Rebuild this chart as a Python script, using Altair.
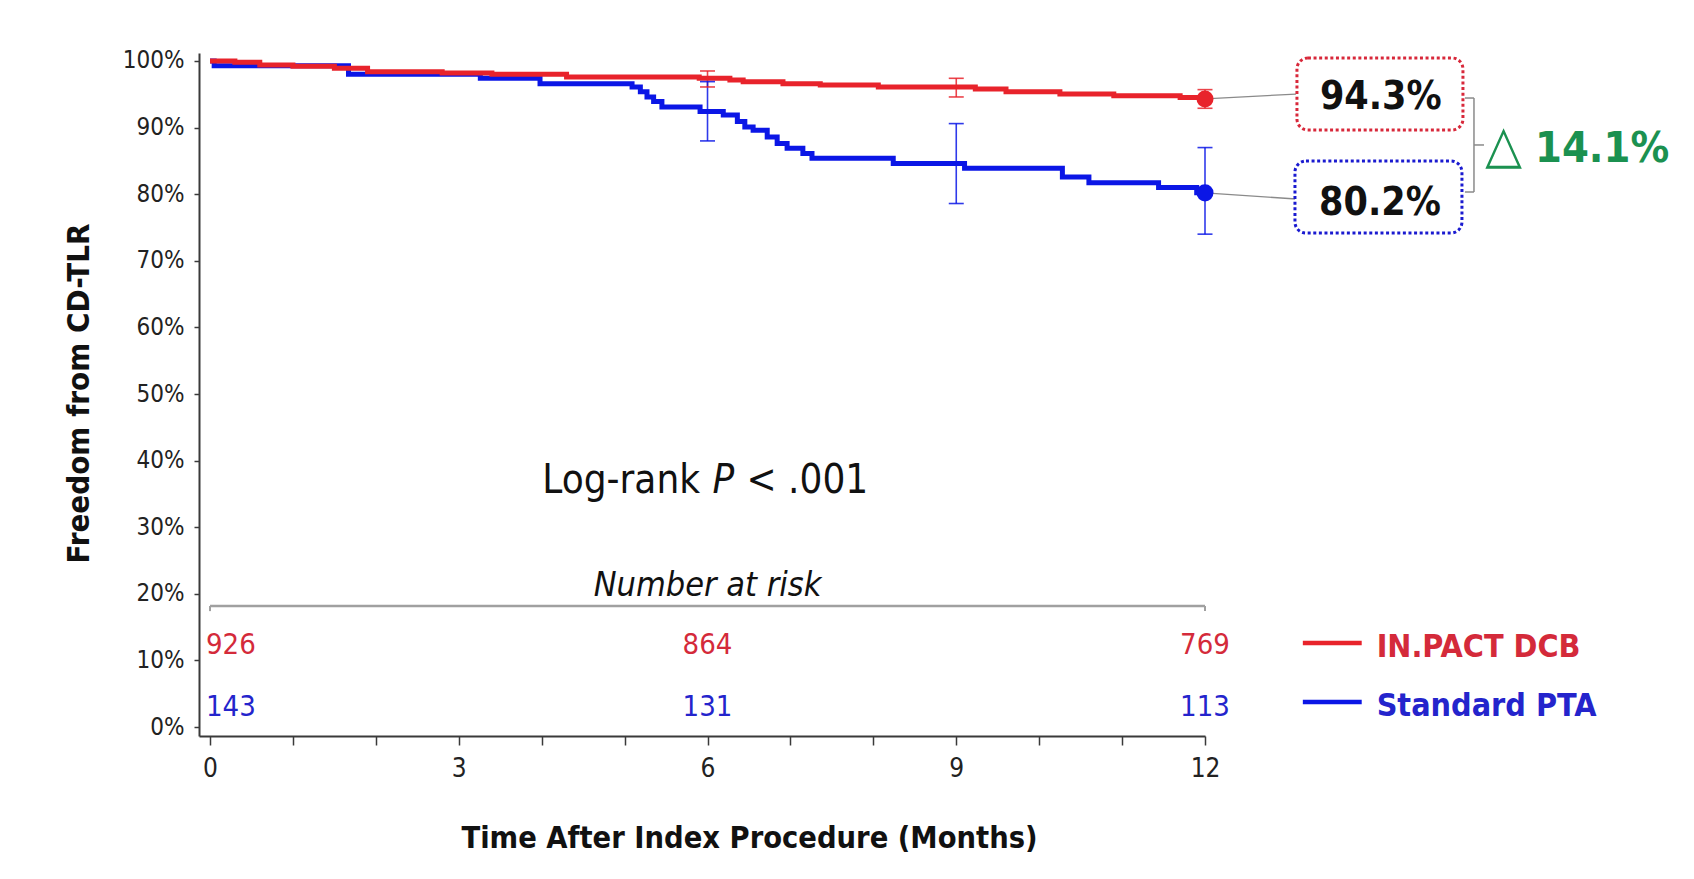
import altair as alt
import pandas as pd

# ---------------- data ----------------
groups = ["IN.PACT DCB", "Standard PTA"]

# Kaplan-Meier step estimates (months, % freedom from CD-TLR)
dcb_time = [0, 0.3, 0.6, 1.0, 1.5, 1.9, 2.8, 3.4, 4.3, 5.9, 6.27, 6.43, 6.91, 7.36,
            8.06, 9.23, 9.6, 10.25, 10.9, 11.7, 12.0]
dcb_surv = [100, 99.8, 99.4, 99.2, 98.9, 98.4, 98.2, 98.0, 97.6, 97.4, 97.15, 96.9, 96.6, 96.4,
            96.1, 95.8, 95.4, 95.05, 94.8, 94.5, 94.3]
pta_time = [0, 0.05, 1.67, 3.26, 3.98, 5.09, 5.19, 5.27, 5.35, 5.45, 5.91, 6.19, 6.36, 6.45,
            6.55, 6.72, 6.84, 6.96, 7.15, 7.26, 8.24, 9.1, 10.28, 10.6, 11.44, 11.9, 12.0]
pta_surv = [100, 99.3, 98.0, 97.4, 96.6, 96.1, 95.4, 94.6, 93.9, 93.1, 92.4, 91.9, 90.9, 90.1,
            89.6, 88.6, 87.6, 86.9, 86.1, 85.4, 84.6, 83.9, 82.6, 81.7, 81.0, 80.2, 80.2]

# confidence intervals shown as error bars
ci_time = [6, 9, 12]
dcb_ci_lo = [96.1, 94.6, 92.9]
dcb_ci_hi = [98.5, 97.4, 95.7]
pta_ci_lo = [88.0, 78.6, 74.0]
pta_ci_hi = [96.9, 90.6, 87.0]

# 12-month estimates
final_time = 12
dcb_final = 94.3
pta_final = 80.2
delta_symbol = "△"
delta_value = "14.1%"

# number at risk
risk_time = [0, 6, 12]
dcb_risk = [926, 864, 769]
pta_risk = [143, 131, 113]

x_ticks = list(range(13))
y_ticks = list(range(0, 101, 10))

# ---------------- styling ----------------
FONT = "'DejaVu Sans Condensed', 'Liberation Sans Narrow', sans-serif"
RED = "#e8232b"
BLUE = "#0b16e6"
RED_TXT = "#d42a3a"
BLUE_TXT = "#2424cc"
GREEN = "#1b9150"
AXIS_C = "#3a3a3a"

xs = alt.Scale(domain=[-0.133, 12.0], nice=False, zero=False)
ys = alt.Scale(domain=[-1.35, 101.2], nice=False, zero=False)
cs = alt.Scale(domain=groups, range=[RED, BLUE])

x_axis = alt.Axis(
    values=x_ticks,
    labelExpr="datum.value % 3 == 0 ? datum.label : ''",
    title="Time After Index Procedure (Months)",
    titleFont=FONT, titleFontSize=30.5, titleFontWeight="bold", titleColor="#111",
    titleX=550, titleY=111, titleBaseline="alphabetic", titleAlign="center",
    labelFont=FONT, labelFontSize=26, labelColor="#222", labelFlush=False, labelOverlap=False,
    labelPadding=10, tickSize=9, tickWidth=1.5, tickColor=AXIS_C,
    domainColor=AXIS_C, domainWidth=2, grid=False,
)
y_axis = alt.Axis(
    values=y_ticks,
    labelExpr="datum.value + '%'",
    title="Freedom from CD-TLR",
    titleFont=FONT, titleFontSize=31, titleFontWeight="bold", titleColor="#111",
    titleAngle=270, titleX=-120, titleY=340, titleBaseline="middle", titleAlign="center",
    labelFont=FONT, labelFontSize=24, labelColor="#222", labelFlush=False, labelOverlap=False,
    labelPadding=10, tickSize=5, tickWidth=1.5, tickColor=AXIS_C,
    domainColor=AXIS_C, domainWidth=2, grid=False,
)


def X(f):
    return alt.X(f, type="quantitative", scale=xs, axis=x_axis)


def Y(f):
    return alt.Y(f, type="quantitative", scale=ys, axis=y_axis)


def YD(v):
    return alt.Y(datum=v, type="quantitative", scale=ys, axis=y_axis)


COLOR = alt.Color("group:N", scale=cs, legend=None)

# ---------------- tables ----------------
km_dcb = pd.DataFrame({"time": dcb_time, "surv": dcb_surv, "group": groups[0]})
km_pta = pd.DataFrame({"time": pta_time, "surv": pta_surv, "group": groups[1]})
ci = pd.concat([
    pd.DataFrame({"time": ci_time, "lo": dcb_ci_lo, "hi": dcb_ci_hi, "group": groups[0]}),
    pd.DataFrame({"time": ci_time, "lo": pta_ci_lo, "hi": pta_ci_hi, "group": groups[1]}),
])
finals = pd.DataFrame({"time": [final_time, final_time], "surv": [dcb_final, pta_final],
                       "group": groups})
risk = pd.concat([
    pd.DataFrame({"time": risk_time, "n": dcb_risk, "group": groups[0]}),
    pd.DataFrame({"time": risk_time, "n": pta_risk, "group": groups[1]}),
])

# ---------------- main layers ----------------
pta_line = alt.Chart(km_pta).mark_line(interpolate="step-after", strokeWidth=5).encode(
    x=X("time"), y=Y("surv"), color=COLOR)
dcb_line = alt.Chart(km_dcb).mark_line(interpolate="step-after", strokeWidth=5).encode(
    x=X("time"), y=Y("surv"), color=COLOR)

err_rule = alt.Chart(ci).mark_rule(strokeWidth=1.6, opacity=0.85).encode(
    x=X("time"), y=Y("lo"), y2=alt.Y2("hi"), color=COLOR)
cap_lo = alt.Chart(ci).mark_tick(orient="horizontal", size=15, thickness=1.6, opacity=0.85).encode(
    x=X("time"), y=Y("lo"), color=COLOR)
cap_hi = alt.Chart(ci).mark_tick(orient="horizontal", size=15, thickness=1.6, opacity=0.85).encode(
    x=X("time"), y=Y("hi"), color=COLOR)
pts = alt.Chart(finals).mark_point(filled=True, size=290, opacity=1).encode(
    x=X("time"), y=Y("surv"), color=COLOR)


# ---------------- annotation helpers ----------------
def seg(x, x2, y, y2, color, width):
    df = pd.DataFrame({"x": [x], "x2": [x2], "y": [y], "y2": [y2]})
    return alt.Chart(df).mark_rule(color=color, strokeWidth=width).encode(
        x=X("x"), x2=alt.X2("x2"), y=Y("y"), y2=alt.Y2("y2"))


def box(x, x2, y, y2, color):
    df = pd.DataFrame({"x": [x], "x2": [x2], "y": [y], "y2": [y2]})
    return alt.Chart(df).mark_rect(cornerRadius=11, fill="white", stroke=color, strokeWidth=3,
                                   strokeDash=[3, 2.6]).encode(
        x=X("x"), x2=alt.X2("x2"), y=Y("y"), y2=alt.Y2("y2"))


def label(x, y, text, size, color, weight="normal", style="normal", align="center", dx=0):
    df = pd.DataFrame({"x": [x], "y": [y], "text": [text]})
    return alt.Chart(df).mark_text(align=align, baseline="middle", font=FONT, fontSize=size,
                                   fontWeight=weight, fontStyle=style, color=color, dx=dx).encode(
        x=X("x"), y=Y("y"), text="text:N")


def risk_text(group, color, y, first):
    base = alt.Chart(risk).transform_filter(alt.datum.group == group)
    if first:
        base = base.transform_filter(alt.datum.time == 0)
        m = base.mark_text(align="left", baseline="middle", font=FONT, fontSize=29, color=color, dx=-4)
    else:
        base = base.transform_filter(alt.datum.time > 0)
        m = base.mark_text(align="center", baseline="middle", font=FONT, fontSize=29, color=color)
    return m.encode(x=X("time"), y=YD(y), text="n:Q")


GRAY = "#8a8a8a"
layers = [
    # curves
    pta_line, dcb_line, err_rule, cap_lo, cap_hi,
    # number-at-risk header and separator
    seg(0, 12, 18.17, 18.17, "#a0a0a0", 2.5),
    seg(0, 0, 18.17, 17.4, "#a0a0a0", 2),
    seg(12, 12, 18.17, 17.4, "#a0a0a0", 2),
    label(6.0, 21.1, "Number at risk", 34, "#111", style="italic"),
    risk_text(groups[0], RED_TXT, 12.32, True),
    risk_text(groups[0], RED_TXT, 12.32, False),
    risk_text(groups[1], BLUE_TXT, 3.0, True),
    risk_text(groups[1], BLUE_TXT, 3.0, False),
    # log-rank
    label(5.91, 36.94, "Log-rank", 40, "#111", align="right"),
    label(6.06, 36.94, "P", 40, "#111", style="italic", align="left"),
    label(6.47, 36.94, "< .001", 40, "#111", align="left"),
    # connectors to boxes
    seg(final_time, 13.097, dcb_final, 95.04, GRAY, 1.3),
    seg(final_time, 13.097, pta_final, 79.28, GRAY, 1.3),
    pts,
    box(13.109, 15.111, 100.45, 89.64, "#d8283a"),
    box(13.085, 15.099, 84.98, 74.17, "#1a1ad0"),
    label(14.12, 94.59, f"{dcb_final}%", 39, "#111", weight="bold"),
    label(14.11, 78.68, f"{pta_final}%", 39, "#111", weight="bold"),
    # bracket
    seg(15.244, 15.244, 94.44, 80.33, GRAY, 1.5),
    seg(15.135, 15.244, 94.44, 94.44, GRAY, 1.5),
    seg(15.135, 15.244, 80.33, 80.33, GRAY, 1.5),
    seg(15.244, 15.365, 87.39, 87.39, GRAY, 1.5),
    label(15.38, 87.3, delta_symbol, 53, GREEN, align="left"),
    label(15.98, 86.79, delta_value, 43, GREEN, weight="bold", align="left"),
    # legend
    seg(13.18, 13.89, 12.62, 12.62, RED, 4.5),
    seg(13.18, 13.89, 3.76, 3.76, BLUE, 4.5),
    label(14.07, 12.02, groups[0], 32, RED_TXT, weight="bold", align="left"),
    label(14.07, 3.16, groups[1], 32, BLUE_TXT, weight="bold", align="left"),
]

chart = alt.layer(*layers).properties(
    width=1006,
    height=683,
    padding={"left": 191, "top": 45, "right": 481, "bottom": 135},
    autosize=alt.AutoSizeParams(type="none"),
    background="white",
).configure_view(strokeWidth=0)

chart.save("out.html", embed_options={"renderer": "svg", "actions": False})
